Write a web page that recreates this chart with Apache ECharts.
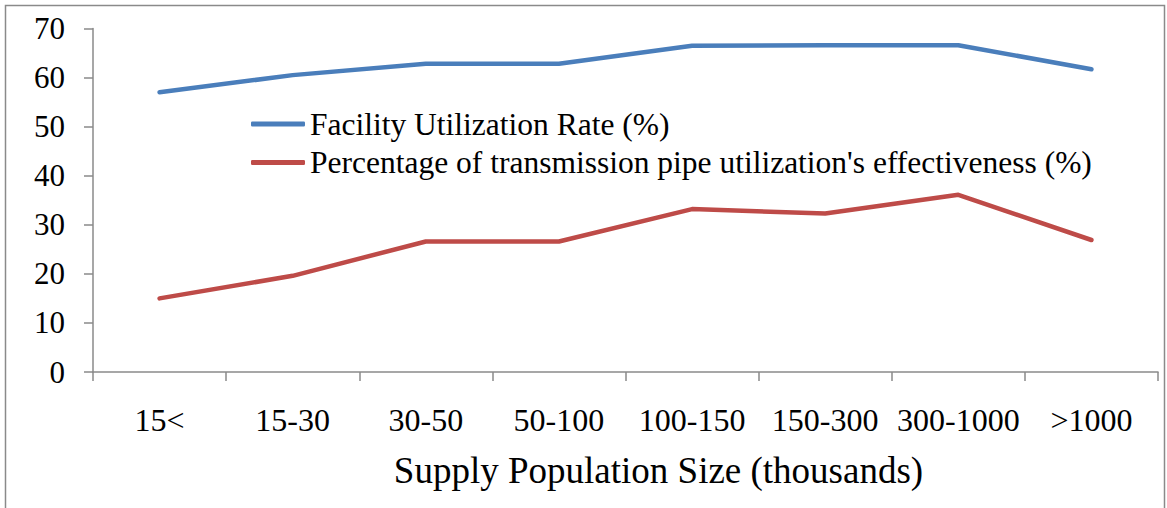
<!DOCTYPE html>
<html><head><meta charset="utf-8">
<script src="https://cdn.jsdelivr.net/npm/echarts@6/dist/echarts.min.js"></script>
<style>html,body{margin:0;padding:0;background:#fff}#c{width:1167px;height:508px}</style>
</head><body><div id="c"></div>
<script>
const categories = ['15<','15-30','30-50','50-100','100-150','150-300','300-1000','>1000'];
const facilityRate = [57.0, 60.5, 62.8, 62.8, 66.5, 66.6, 66.6, 61.7];
const pipeEffectiveness = [15.0, 19.6, 26.6, 26.6, 33.2, 32.3, 36.1, 26.9];
const yTicks = [0,10,20,30,40,50,60,70];
const seriesNames = ['Facility Utilization Rate (%)', "Percentage of transmission pipe utilization's effectiveness (%)"];
const xName = 'Supply Population Size (thousands)';

const font = 'Liberation Serif';
const chart = echarts.init(document.getElementById('c'), null, {renderer:'svg'});
chart.setOption({
  animation:false,
  backgroundColor:'#fff',
  graphic:[{type:'rect',shape:{x:5.5,y:5.5,width:1159,height:560},style:{fill:'none',stroke:'#8a8a8a',lineWidth:1.5},silent:true}],
  grid:{left:93,right:9,top:28.5,bottom:136},
  legend:{
    orient:'vertical', left:246, top:103, itemGap:6.5, itemWidth:54, itemHeight:5,
    icon:'roundRect',
    textStyle:{fontFamily:font,fontSize:31.5,color:'#000'},
    data:seriesNames
  },
  xAxis:{
    type:'category', data:categories, boundaryGap:true,
    axisLine:{lineStyle:{color:'#8a8a8a',width:1.5}},
    axisTick:{show:true,interval:0,length:9,alignWithLabel:false,lineStyle:{color:'#8a8a8a',width:1.5}},
    axisLabel:{interval:0,hideOverlap:false,fontFamily:font,fontSize:32,color:'#000',margin:32},
    name:xName, nameLocation:'middle', nameGap:80,
    nameTextStyle:{fontFamily:font,fontSize:37,color:'#000',padding:[0,0,0,66]}
  },
  yAxis:{
    type:'value', min:0, max:70, interval:10,
    axisLine:{show:true,lineStyle:{color:'#8a8a8a',width:1.5}},
    axisTick:{show:true,length:9,lineStyle:{color:'#8a8a8a',width:1.5}},
    splitLine:{show:false},
    axisLabel:{fontFamily:font,fontSize:31,color:'#000',margin:28,
      formatter:(v)=> yTicks.includes(v)? String(v):''}
  },
  series:[
    {name:seriesNames[0],type:'line',data:facilityRate,symbol:'none',lineStyle:{color:'#4A7EBB',width:4.5,cap:'round',join:'round'},itemStyle:{color:'#4A7EBB'}},
    {name:seriesNames[1],type:'line',data:pipeEffectiveness,symbol:'none',lineStyle:{color:'#BE4B48',width:4.5,cap:'round',join:'round'},itemStyle:{color:'#BE4B48'}}
  ]
});
</script></body></html>
